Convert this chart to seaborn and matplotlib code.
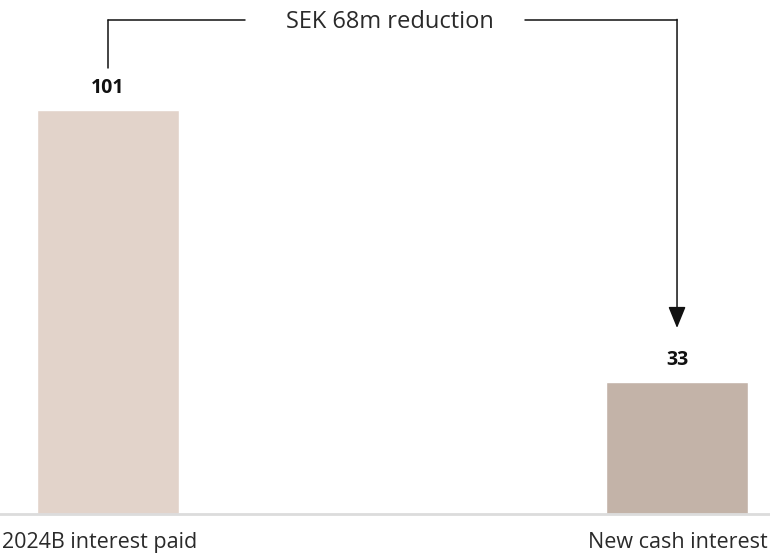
import matplotlib
matplotlib.use("Agg")
import matplotlib.pyplot as plt
import matplotlib.transforms as mtransforms
import seaborn as sns
import pandas as pd

categories = ["2024B interest paid", "New cash interest"]
values = [101, 33]
bar_colors = ["#e2d3ca", "#c3b3a8"]
reduction_label = "SEK 68m reduction"

sns.set_theme(style="white")
plt.rcParams["font.family"] = ["Open Sans", "DejaVu Sans"]

df = pd.DataFrame({"category": categories, "value": values})

fig = plt.figure(figsize=(7.7, 5.55), dpi=100)
ax = fig.add_axes([0, 41 / 555, 1, 514 / 555])

sns.barplot(data=df, x="category", y="value", hue="category",
            palette=bar_colors, width=0.25, legend=False, ax=ax,
            saturation=1)

ax.set_xlim(-0.1898, 1.1634)
ax.set_ylim(0, 128.5)
ax.set_xlabel("")
ax.set_ylabel("")
ax.set_yticks([])
for side in ["top", "left", "right"]:
    ax.spines[side].set_visible(False)
ax.spines["bottom"].set_color("#dcdcdc")
ax.spines["bottom"].set_linewidth(2)

ax.set_xticks([0, 1])
ax.set_xticklabels(categories, fontsize=15.5, color="#2a2a2a")
ax.tick_params(axis="x", length=0, pad=13)
lbls = ax.get_xticklabels()
lbls[0].set_ha("left")
lbls[0].set_transform(lbls[0].get_transform() +
                      mtransforms.ScaledTranslation(-106 / 100, 0, fig.dpi_scale_trans))
lbls[1].set_ha("right")
lbls[1].set_transform(lbls[1].get_transform() +
                      mtransforms.ScaledTranslation(91 / 100, 0, fig.dpi_scale_trans))

# value labels above each bar
for i, v in enumerate(values):
    ax.text(i, v + 5.5, f"{v}", ha="center", va="center",
            fontsize=14, fontweight="bold", color="#111111")

# bracket connecting the two bars
top = 123.5
line_kw = dict(color="#111111", lw=1.1)
ax.plot([0, 0], [values[0] + 10.5, top], **line_kw)
ax.plot([0, 0.24], [top, top], **line_kw)
ax.plot([0.733, 1], [top, top], **line_kw)
ax.annotate("", xy=(1, values[1] + 13.5), xytext=(1, top + 0.15),
            arrowprops=dict(arrowstyle="-|>,head_length=1.1,head_width=0.45",
                            color="#111111", lw=1.1, shrinkA=0, shrinkB=0))
ax.text(0.496, top - 0.6, reduction_label, ha="center", va="center",
        fontsize=17, color="#2a2a2a")

fig.savefig("out.png", dpi=100)
